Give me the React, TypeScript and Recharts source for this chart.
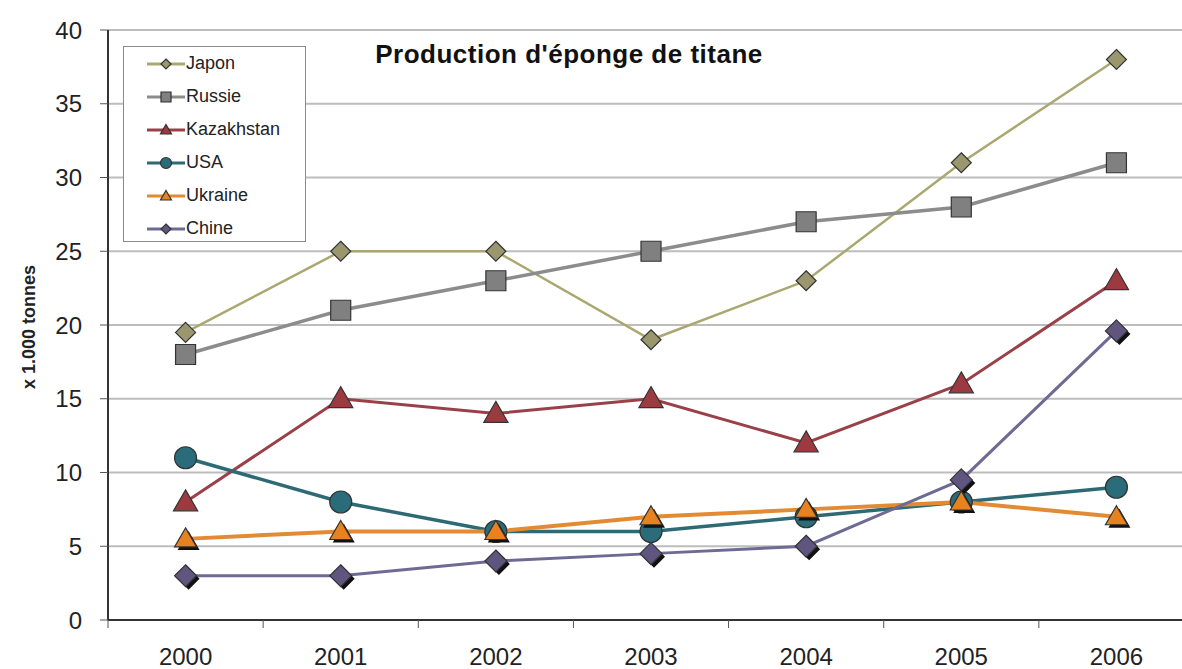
import React from 'react';
import { LineChart, Line, XAxis, YAxis, CartesianGrid, Legend } from 'recharts';

// Titanium sponge output, thousands of tonnes
const YEARS = ['2000', '2001', '2002', '2003', '2004', '2005', '2006'];
const JAPON = [19.5, 25, 25, 19, 23, 31, 38];
const RUSSIE = [18, 21, 23, 25, 27, 28, 31];
const KAZAKHSTAN = [8, 15, 14, 15, 12, 16, 23];
const USA = [11, 8, 6, 6, 7, 8, 9];
const UKRAINE = [5.5, 6, 6, 7, 7.5, 8, 7];
const CHINE = [3, 3, 4, 4.5, 5, 9.5, 19.6];
const Y_TICKS = [0, 5, 10, 15, 20, 25, 30, 35, 40];

type Shape = 'diamond' | 'square' | 'triangle' | 'circle';

interface SeriesDef {
  key: string;
  values: number[];
  line: string;
  fill: string;
  shape: Shape;
  size: number;
  width: number;
  shadow?: boolean;
}

const SERIES: SeriesDef[] = [
  { key: 'Japon', values: JAPON, line: '#aaa870', fill: '#9a966e', shape: 'diamond', size: 10, width: 2.5 },
  { key: 'Russie', values: RUSSIE, line: '#8c8c8c', fill: '#808080', shape: 'square', size: 10, width: 3.5 },
  { key: 'Kazakhstan', values: KAZAKHSTAN, line: '#9a4049', fill: '#9c3a40', shape: 'triangle', size: 11, width: 3 },
  { key: 'USA', values: USA, line: '#2d6a73', fill: '#2b6c7a', shape: 'circle', size: 11, width: 3.5 },
  { key: 'Ukraine', values: UKRAINE, line: '#e48a32', fill: '#e8821e', shape: 'triangle', size: 10, width: 4, shadow: true },
  { key: 'Chine', values: CHINE, line: '#6e6a94', fill: '#5f557f', shape: 'diamond', size: 11, width: 3, shadow: true },
];

const data = YEARS.map((year, i) => {
  const row: Record<string, string | number> = { year };
  SERIES.forEach((s) => {
    row[s.key] = s.values[i];
  });
  return row;
});

const FONT = '"Liberation Sans", Arial, sans-serif';
const CHART_W = 1194;
const CHART_H = 669;
const Y_AXIS_W = 108;
const X_AXIS_H = 49;
const PLOT_BOTTOM = CHART_H - X_AXIS_H;
const STEP = (CHART_W - Y_AXIS_W) / YEARS.length;

function markerPath(shape: Shape, cx: number, cy: number, r: number) {
  if (shape === 'diamond') {
    return `M${cx},${cy - r}L${cx + r},${cy}L${cx},${cy + r}L${cx - r},${cy}Z`;
  }
  if (shape === 'square') {
    return `M${cx - r},${cy - r}H${cx + r}V${cy + r}H${cx - r}Z`;
  }
  if (shape === 'triangle') {
    return `M${cx},${cy - r * 1.1}L${cx + r * 1.1},${cy + r * 0.8}L${cx - r * 1.1},${cy + r * 0.8}Z`;
  }
  return `M${cx - r},${cy}a${r},${r} 0 1,0 ${2 * r},0a${r},${r} 0 1,0 ${-2 * r},0Z`;
}

const Marker = ({ s, cx, cy, r }: { s: SeriesDef; cx: number; cy: number; r: number }) => (
  <g>
    {s.shadow && <path d={markerPath(s.shape, cx + 3, cy + 3, r)} fill="#111" />}
    <path d={markerPath(s.shape, cx, cy, r)} fill={s.fill} stroke="#333" strokeWidth={1.2} />
  </g>
);

const makeDot = (s: SeriesDef) => (props: any) => {
  const { cx, cy, index } = props;
  if (cx == null || cy == null) return <g key={`${s.key}-${index}`} />;
  return (
    <g key={`${s.key}-${index}`}>
      <Marker s={s} cx={cx} cy={cy} r={s.size} />
    </g>
  );
};

const YearTick = (props: any) => {
  const { x, payload, index } = props;
  return (
    <g>
      <line x1={x - STEP / 2} x2={x - STEP / 2} y1={PLOT_BOTTOM} y2={PLOT_BOTTOM + 8} stroke="#555" strokeWidth={1} />
      {index === YEARS.length - 1 && (
        <line x1={x + STEP / 2} x2={x + STEP / 2} y1={PLOT_BOTTOM} y2={PLOT_BOTTOM + 8} stroke="#555" strokeWidth={1} />
      )}
      <text x={x} y={PLOT_BOTTOM + 45} textAnchor="middle" fontSize={24} fill="#222" fontFamily={FONT}>
        {payload.value}
      </text>
    </g>
  );
};

const LegendBox = () => (
  <div
    style={{
      width: 183,
      height: 196,
      border: '1px solid #8a8a8a',
      background: '#fff',
      fontFamily: FONT,
      fontSize: 18,
      color: '#222',
      boxSizing: 'border-box',
      paddingTop: 0,
    }}
  >
    {SERIES.map((s) => (
      <div key={s.key} style={{ display: 'flex', alignItems: 'center', height: 33 }}>
        <svg width={38} height={20} style={{ marginLeft: 23, marginRight: 1 }}>
          <line x1={0} x2={38} y1={10} y2={10} stroke={s.line} strokeWidth={3} />
          <Marker s={{ ...s, shadow: false }} cx={19} cy={10} r={s.shape === 'circle' ? 5.5 : 5} />
        </svg>
        <span>{s.key}</span>
      </div>
    ))}
  </div>
);

const YLabel = () => (
  <text
    transform="translate(30,327) rotate(-90)"
    textAnchor="middle"
    dominantBaseline="middle"
    fontSize={18}
    fontWeight="bold"
    fill="#222"
    fontFamily={FONT}
  >
    x 1.000 tonnes
  </text>
);

export default function App() {
  return (
    <div
      style={{
        position: 'absolute',
        left: 0,
        top: 0,
        width: 1182,
        height: 669,
        overflow: 'hidden',
        background: '#fff',
      }}
    >
      <LineChart width={CHART_W} height={CHART_H} data={data} margin={{ top: 30, right: 0, bottom: 0, left: 0 }}>
        <CartesianGrid vertical={false} stroke="#bdbdbd" strokeWidth={2} />
        <XAxis
          dataKey="year"
          height={X_AXIS_H}
          tickLine={false}
          axisLine={{ stroke: '#333', strokeWidth: 2 }}
          tick={<YearTick />}
          interval={0}
          padding={{ left: STEP / 2, right: STEP / 2 }}
        />
        <YAxis
          type="number"
          domain={[0, 40]}
          ticks={Y_TICKS}
          width={Y_AXIS_W}
          tickSize={8}
          tickMargin={18}
          tickLine={{ stroke: '#555' }}
          axisLine={{ stroke: '#333', strokeWidth: 2 }}
          tick={{ fontSize: 24, fill: '#222', fontFamily: FONT }}
          label={<YLabel />}
        />
        <Legend
          layout="vertical"
          align="center"
          verticalAlign="middle"
          content={<LegendBox />}
          wrapperStyle={{ left: 123, top: 46, width: 183, height: 196 }}
        />
        {SERIES.map((s) => (
          <Line
            key={s.key}
            dataKey={s.key}
            type="linear"
            stroke={s.line}
            strokeWidth={s.width}
            dot={makeDot(s)}
            activeDot={false}
            isAnimationActive={false}
          />
        ))}
      </LineChart>
      <div
        style={{
          position: 'absolute',
          left: 0,
          top: 41,
          width: 1138,
          textAlign: 'center',
          fontFamily: FONT,
          fontSize: 26,
          letterSpacing: 0.5,
          fontWeight: 'bold',
          color: '#111',
          lineHeight: '26px',
        }}
      >
        Production d'éponge de titane
      </div>
    </div>
  );
}
